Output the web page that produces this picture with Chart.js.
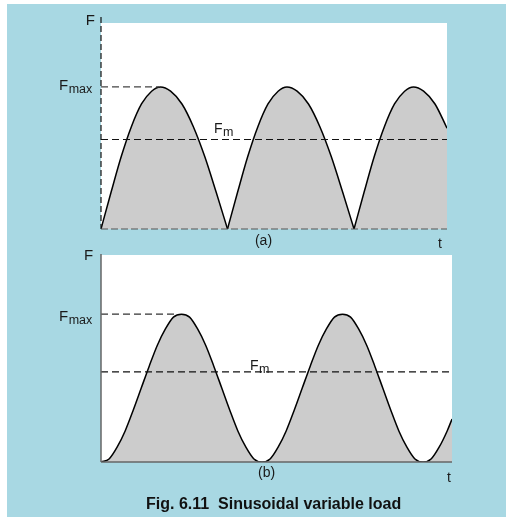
<!DOCTYPE html>
<html>
<head>
<meta charset="utf-8">
<script src="https://cdn.jsdelivr.net/npm/chart.js@4.4.1/dist/chart.umd.min.js"></script>
<style>
  html, body { margin: 0; padding: 0; background: #fff; }
  body { width: 506px; height: 517px; position: relative; overflow: hidden; font-family: "Liberation Sans", Arial, sans-serif; }
  #bg { position: absolute; left: 7px; top: 4px; width: 499px; height: 513px; background: #a8d8e3; }
  .layer { position: absolute; left: 0; top: 0; width: 506px; height: 517px; }
  #caption { position: absolute; left: 146px; top: 495px; font-weight: bold; font-size: 16px; color: #111; white-space: pre; }
</style>
</head>
<body>
<div id="bg"></div>
<div class="layer"><canvas id="chart-a"></canvas></div>
<div class="layer"><canvas id="chart-b"></canvas></div>
<div id="caption">Fig. 6.11  Sinusoidal variable load</div>
<script>
'use strict';

// (a) rectified sine, one arch per half period (t in half-periods, F / Fmax)
const archA1T = [0, 0.08, 0.16, 0.24, 0.32, 0.40, 0.47, 0.55, 0.64, 0.73, 0.82, 0.91, 1.00];
const archA1F = [0, 0.26, 0.51, 0.72, 0.88, 0.97, 1.00, 0.97, 0.88, 0.72, 0.51, 0.26, 0];
const archA2T = [1.00, 1.08, 1.16, 1.24, 1.32, 1.40, 1.47, 1.55, 1.64, 1.73, 1.82, 1.91, 2.00];
const archA2F = [0, 0.26, 0.51, 0.72, 0.88, 0.97, 1.00, 0.97, 0.88, 0.72, 0.51, 0.26, 0];
const archA3T = [2.00, 2.08, 2.16, 2.24, 2.32, 2.40, 2.47, 2.55, 2.64, 2.735];
const archA3F = [0, 0.26, 0.51, 0.72, 0.88, 0.97, 1.00, 0.97, 0.88, 0.71];
const fmA = 0.63;

// (b) shifted sine (t in periods, F / Fmax)
const curveBT = [
  0, 0.05, 0.10, 0.15, 0.20, 0.25, 0.30, 0.35, 0.40, 0.45,
  0.50, 0.55, 0.60, 0.65, 0.70, 0.75, 0.80, 0.85, 0.90, 0.95,
  1.00, 1.05, 1.10, 1.15, 1.20, 1.25, 1.30, 1.35, 1.40, 1.45,
  1.50, 1.55, 1.60, 1.65, 1.70, 1.75, 1.80, 1.85, 1.90, 1.95,
  2.00, 2.05, 2.10, 2.15, 2.18,
];
const curveBF = [
  0, 0.02, 0.10, 0.21, 0.35, 0.50, 0.65, 0.79, 0.90, 0.98,
  1.00, 0.98, 0.90, 0.79, 0.65, 0.50, 0.35, 0.21, 0.10, 0.02,
  0, 0.02, 0.10, 0.21, 0.35, 0.50, 0.65, 0.79, 0.90, 0.98,
  1.00, 0.98, 0.90, 0.79, 0.65, 0.50, 0.35, 0.21, 0.10, 0.02,
  0, 0.02, 0.10, 0.21, 0.29,
];
const fmB = 0.61;

const FONT = '"Liberation Sans", Arial, sans-serif';

function pts(ts, fs) {
  return ts.map((t, i) => ({ x: t, y: fs[i] }));
}

function curveSet(ts, fs) {
  return {
    data: pts(ts, fs),
    borderColor: '#000',
    borderWidth: 1.5,
    backgroundColor: '#cccccc',
    fill: 'origin',
    cubicInterpolationMode: 'monotone',
    pointRadius: 0,
    order: 2,
  };
}

function dashSet(ts, fs, color, dash) {
  return {
    data: pts(ts, fs),
    borderColor: color,
    borderWidth: 1.2,
    borderDash: dash,
    fill: false,
    pointRadius: 0,
    order: 0,
  };
}

// background, axes and labels
const panelPlugin = {
  id: 'panel',
  beforeDraw(chart) {
    const { ctx, chartArea: a } = chart;
    ctx.save();
    ctx.fillStyle = '#fff';
    ctx.fillRect(a.left, a.top, a.right - a.left, a.bottom - a.top);
    ctx.restore();
  },
  afterDatasetsDraw(chart, args, opts) {
    const { ctx, chartArea: a, scales: { x, y } } = chart;
    const x0 = x.getPixelForValue(0);
    const y0 = y.getPixelForValue(0);
    ctx.save();
    ctx.strokeStyle = opts.axisColor;
    ctx.lineWidth = opts.axisWidth;
    ctx.setLineDash(opts.axisDash);
    ctx.beginPath();
    ctx.moveTo(x0, a.top - opts.axisOver);
    ctx.lineTo(x0, y0);
    ctx.stroke();
    ctx.setLineDash(opts.baseDash);
    ctx.strokeStyle = opts.baseColor;
    ctx.beginPath();
    ctx.moveTo(x0, y0);
    ctx.lineTo(a.right, y0);
    ctx.stroke();
    ctx.restore();
  },
  afterDraw(chart, args, opts) {
    const { ctx, scales: { x, y } } = chart;
    ctx.save();
    ctx.fillStyle = '#1a1a1a';
    ctx.textBaseline = 'alphabetic';
    ctx.textAlign = 'left';
    opts.labels.forEach(l => {
      const px = x.getPixelForValue(l.t);
      const py = y.getPixelForValue(l.f);
      ctx.font = `${l.size}px ${FONT}`;
      ctx.fillText(l.text, px, py);
      if (l.sub) {
        const w = ctx.measureText(l.text).width;
        ctx.font = `${l.subSize}px ${FONT}`;
        ctx.fillText(l.sub, px + w + 0.5, py + 3);
      }
    });
    ctx.restore();
  },
};

function makeChart(id, datasets, xMax, yMax, padding, panel) {
  return new Chart(document.getElementById(id), {
    type: 'line',
    data: { datasets },
    options: {
      responsive: true,
      maintainAspectRatio: false,
      animation: false,
      layout: { padding },
      plugins: { legend: { display: false }, tooltip: { enabled: false }, panel },
      scales: {
        x: { type: 'linear', min: 0, max: xMax, display: false },
        y: { type: 'linear', min: 0, max: yMax, display: false },
      },
    },
    plugins: [panelPlugin],
  });
}

makeChart('chart-a', [
  dashSet([0, 2.735], [fmA, fmA], '#111', [7, 4]),
  dashSet([0, 0.46], [1, 1], '#444', [7, 4]),
  curveSet(archA1T, archA1F),
  curveSet(archA2T, archA2F),
  curveSet(archA3T, archA3F),
], 2.735, 1.45, { left: 101, top: 23, right: 59, bottom: 288 }, {
  axisColor: '#111', axisWidth: 1.2, axisDash: [6, 3], axisOver: 6,
  baseColor: '#555', baseDash: [7, 3],
  labels: [
    { text: 'F', t: -0.12, f: 1.437, size: 15 },
    { text: 'F', sub: 'max', t: -0.332, f: 0.979, size: 15, subSize: 12.5 },
    { text: 'F', sub: 'm', t: 0.893, f: 0.676, size: 14, subSize: 12.5 },
    { text: '(a)', t: 1.217, f: -0.113, size: 14 },
    { text: 't', t: 2.664, f: -0.134, size: 14 },
  ],
});

makeChart('chart-b', [
  dashSet([0, 2.18], [fmB, fmB], '#111', [7, 4]),
  dashSet([0, 0.46], [1, 1], '#333', [7, 4]),
  curveSet(curveBT, curveBF),
], 2.18, 1.40, { left: 101, top: 255, right: 54, bottom: 55 }, {
  axisColor: '#666', axisWidth: 1.5, axisDash: [], axisOver: 1,
  baseColor: '#666', baseDash: [],
  labels: [
    { text: 'F', t: -0.106, f: 1.365, size: 15 },
    { text: 'F', sub: 'max', t: -0.261, f: 0.953, size: 15, subSize: 12.5 },
    { text: 'F', sub: 'm', t: 0.925, f: 0.622, size: 14, subSize: 12.5 },
    { text: '(b)', t: 0.975, f: -0.101, size: 14 },
    { text: 't', t: 2.149, f: -0.135, size: 14 },
  ],
});
</script>
</body>
</html>
